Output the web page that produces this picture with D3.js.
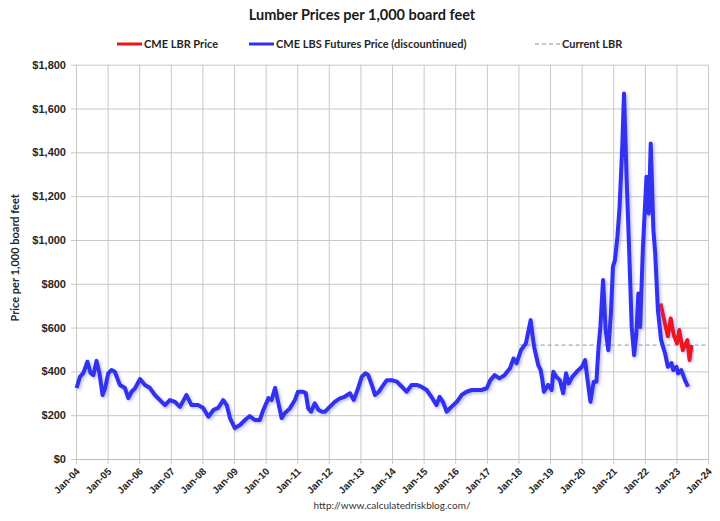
<!DOCTYPE html>
<html>
<head>
<meta charset="utf-8">
<script src="https://cdn.jsdelivr.net/npm/d3@7"></script>
<style>
  body { margin: 0; background: #fff; }
  svg { font-family: Lato, "Open Sans", sans-serif; }
  .tick text { font-size: 11px; font-weight: bold; fill: #262626; }
</style>
</head>
<body>
<svg width="720" height="521"></svg>
<script>
  'use strict';

  // CME LBS futures (blue)
  const lbsDates = [
    '2004-01-08','2004-02-15','2004-03-25','2004-05-12','2004-06-18','2004-07-20','2004-08-25','2004-09-28','2004-11-03','2004-12-03',
    '2005-01-08','2005-02-15','2005-03-25','2005-05-22','2005-07-20','2005-08-28','2005-10-05','2005-11-15',
    '2006-01-10','2006-03-08','2006-05-05','2006-07-01','2006-08-28','2006-10-25','2006-12-20',
    '2007-02-18','2007-04-16','2007-07-01','2007-08-28','2007-11-15',
    '2008-01-10','2008-03-10','2008-05-08','2008-07-01','2008-08-28','2008-10-08','2008-11-15',
    '2009-01-10','2009-03-10','2009-05-08','2009-07-01','2009-08-28','2009-10-25','2009-12-05',
    '2010-02-03','2010-03-10','2010-04-20','2010-05-25','2010-07-05','2010-08-12','2010-10-08','2010-12-05',
    '2011-01-10','2011-03-10','2011-04-10','2011-05-08','2011-06-10','2011-07-22','2011-09-05','2011-10-15','2011-11-18',
    '2012-01-15','2012-03-10','2012-05-08','2012-07-01','2012-09-02','2012-10-15','2012-12-05',
    '2013-01-15','2013-02-25','2013-04-01','2013-05-12','2013-06-18','2013-08-01','2013-09-10','2013-11-01','2013-12-28',
    '2014-02-25','2014-04-25','2014-06-18','2014-08-15','2014-10-12','2014-12-05',
    '2015-02-05','2015-04-01','2015-05-30','2015-07-05','2015-08-12','2015-09-25','2015-11-20',
    '2016-01-20','2016-03-15','2016-05-12','2016-07-10','2016-09-05','2016-11-01','2016-12-30',
    '2017-02-10','2017-04-01','2017-05-25','2017-07-25','2017-09-25','2017-11-05','2017-12-10',
    '2018-01-30','2018-03-28','2018-05-22','2018-06-10','2018-07-01','2018-08-18','2018-09-15','2018-10-05','2018-10-22','2018-12-10',
    '2019-01-20','2019-02-08','2019-03-15','2019-04-25','2019-06-02','2019-07-05','2019-08-05','2019-09-15','2019-11-05',
    '2020-01-05','2020-02-10','2020-03-05','2020-04-12','2020-05-20','2020-06-20','2020-07-15','2020-08-05','2020-09-05','2020-10-05','2020-11-05','2020-12-05','2020-12-28',
    '2021-01-20','2021-02-18','2021-03-15','2021-04-15','2021-05-05','2021-06-05','2021-07-05','2021-08-02','2021-08-30','2021-09-25','2021-10-18','2021-11-08','2021-12-10',
    '2022-01-20','2022-02-15','2022-03-10','2022-04-10','2022-05-01','2022-06-01','2022-07-08','2022-08-22','2022-09-24','2022-11-05','2022-11-25',
    '2023-01-01','2023-01-20','2023-02-25','2023-04-10','2023-05-15'
  ];
  const lbsPrices = [
    324,375,392,444,392,383,448,392,292,324,
    392,406,398,338,324,278,307,324,
    365,338,324,292,269,246,269,
    261,238,292,246,246,
    233,193,224,233,269,246,187,
    141,155,178,196,178,178,224,
    278,269,324,261,187,210,231,269,
    307,307,301,231,216,254,224,216,216,
    239,261,277,284,300,269,323,
    375,391,383,338,292,307,330,360,360,
    353,330,307,338,338,330,
    315,284,246,284,261,216,239,
    261,292,307,315,315,315,323,
    360,383,368,383,414,459,437,
    497,528,634,573,512,429,406,360,307,338,
    315,398,375,360,300,391,345,375,398,
    421,452,375,261,353,353,512,603,817,589,497,665,877,
    908,1014,1151,1425,1668,1273,938,603,474,573,756,603,968,
    1288,1121,1440,1045,938,680,543,483,421,438,406,
    421,391,406,360,330
  ];

  // CME LBR (red)
  const lbrDates = ['2022-07-01','2022-08-20','2022-09-24','2022-10-27','2022-12-01','2023-01-08','2023-02-03','2023-03-15','2023-05-08','2023-06-01','2023-06-25'];
  const lbrPrices = [710,620,560,642,566,528,589,497,543,452,520];

  const currentLbr = 520;
  const currentLbrFrom = '2018-01-15';

  const yTicks = [0,200,400,600,800,1000,1200,1400,1600,1800];
  const xTickYears = d3.range(2004, 2025);

  const legendLabels = ['CME LBR Price', 'CME LBS Futures Price (discountinued)', 'Current LBR'];

  const parse = d3.timeParse('%Y-%m-%d');
  const lbs = lbsDates.map((d, i) => ({date: parse(d), v: lbsPrices[i]}));
  const lbr = lbrDates.map((d, i) => ({date: parse(d), v: lbrPrices[i]}));

  const svg = d3.select('svg');
  const pLeft = 76, pTop = 64.7, pRight = 708, pBottom = 459;

  const x = d3.scaleTime()
      .domain([new Date(2004, 0, 1), new Date(2024, 0, 1)])
      .range([pLeft, pRight]);
  const y = d3.scaleLinear().domain([0, 1800]).range([pBottom, pTop]);

  const defs = svg.append('defs');
  const f = defs.append('filter').attr('id', 'shadow')
      .attr('x', '-5%').attr('y', '-5%').attr('width', '110%').attr('height', '110%');
  f.append('feDropShadow')
      .attr('dx', 1.5).attr('dy', 1.5).attr('stdDeviation', 1.5)
      .attr('flood-color', '#6060ff').attr('flood-opacity', 0.45);

  // title
  svg.append('text')
      .attr('x', 362).attr('y', 20)
      .attr('text-anchor', 'middle')
      .style('font-size', '14.5px').style('font-weight', 'bold').style('fill', '#1a1a1a')
      .text('Lumber Prices per 1,000 board feet');

  // y axis + horizontal grid
  const yAxis = svg.append('g')
      .attr('transform', `translate(${pLeft},0)`)
      .call(d3.axisLeft(y).tickValues(yTicks).tickFormat(d3.format('$,.0f'))
        .tickSize(0).tickPadding(10));
  yAxis.select('.domain').attr('stroke', '#bdbdbd');
  yAxis.selectAll('.tick line')
      .attr('x1', -5).attr('x2', pRight - pLeft)
      .attr('stroke', '#c8c8c8');

  // x axis + vertical grid
  const xAxis = svg.append('g')
      .attr('transform', `translate(0,${pBottom})`)
      .call(d3.axisBottom(x)
        .tickValues(xTickYears.map(yr => new Date(yr, 0, 1)))
        .tickFormat(d3.timeFormat('Jan-%y'))
        .tickSize(0));
  xAxis.select('.domain').attr('stroke', '#bdbdbd');
  xAxis.selectAll('.tick line')
      .attr('y1', 5).attr('y2', pTop - pBottom)
      .attr('stroke', '#c8c8c8');
  xAxis.selectAll('.tick text')
      .attr('text-anchor', 'end')
      .attr('dy', 0)
      .attr('transform', 'translate(4,13) rotate(-45)')
      .attr('y', 0).attr('x', 0)
      .style('font-size', '10px');

  // y axis title
  svg.append('text')
      .attr('transform', `translate(19,${(pTop + pBottom) / 2 - 4}) rotate(-90)`)
      .attr('text-anchor', 'middle')
      .style('font-size', '11px').style('font-weight', 'bold').style('fill', '#262626')
      .text('Price per 1,000 board feet');

  // current LBR dashed
  svg.append('line')
      .attr('x1', x(parse(currentLbrFrom))).attr('x2', pRight)
      .attr('y1', y(currentLbr)).attr('y2', y(currentLbr))
      .attr('stroke', '#a8a8b8').attr('stroke-width', 1.3)
      .attr('stroke-dasharray', '4,3');

  const line = d3.line().x(d => x(d.date)).y(d => y(d.v));

  svg.append('path')
      .datum(lbr)
      .attr('d', line)
      .attr('fill', 'none')
      .attr('stroke', '#ee1515').attr('stroke-width', 4)
      .attr('stroke-linejoin', 'round')
      .attr('filter', 'url(#shadow)');

  svg.append('path')
      .datum(lbs)
      .attr('d', line)
      .attr('fill', 'none')
      .attr('stroke', '#3030ee').attr('stroke-width', 4)
      .attr('stroke-linejoin', 'round')
      .attr('filter', 'url(#shadow)');

  // legend
  const legendItems = [
    {label: legendLabels[0], x0: 117, color: '#ee1515', dash: null},
    {label: legendLabels[1], x0: 249, color: '#3030ee', dash: null},
    {label: legendLabels[2], x0: 535, color: '#b0b0b8', dash: '4,3'}
  ];
  const lg = svg.append('g').selectAll('g').data(legendItems).enter().append('g')
      .attr('transform', d => `translate(${d.x0},44)`);
  lg.append('line')
      .attr('x1', 0).attr('x2', 25)
      .attr('stroke', d => d.color)
      .attr('stroke-width', d => d.dash ? 1.3 : 3)
      .attr('stroke-dasharray', d => d.dash);
  lg.append('text')
      .attr('x', 27).attr('y', 4)
      .style('font-size', '11px').style('font-weight', 'bold').style('fill', '#262626')
      .text(d => d.label);

  // footer
  svg.append('text')
      .attr('x', 392).attr('y', 509)
      .attr('text-anchor', 'middle')
      .style('font-size', '10px').style('fill', '#333')
      .text('http://www.calculatedriskblog.com/');
</script>
</body>
</html>
